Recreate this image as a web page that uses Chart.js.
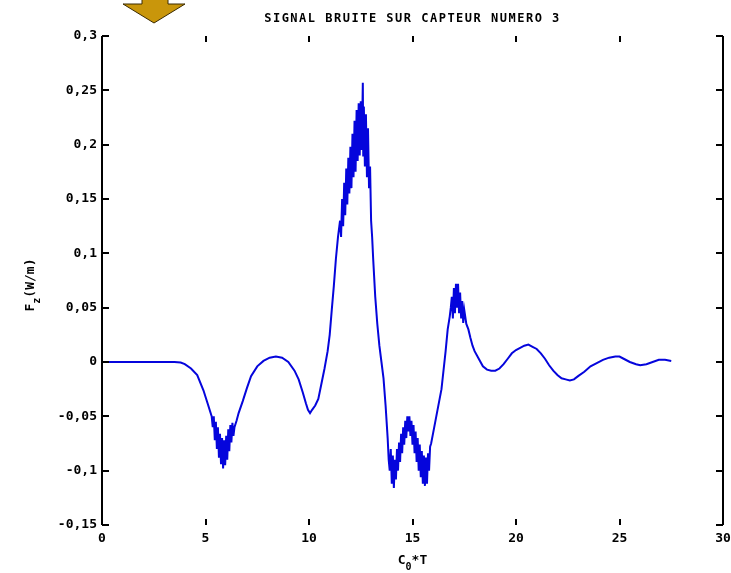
<!DOCTYPE html>
<html>
<head>
<meta charset="utf-8">
<script src="https://cdn.jsdelivr.net/npm/chart.js@4/dist/chart.umd.min.js"></script>
<style>
  html, body { margin: 0; padding: 0; background: #fff; }
  #wrap { width: 731px; height: 573px; }
</style>
</head>
<body>
<div id="wrap"><canvas id="signal"></canvas></div>
<script>
const titleText = "SIGNAL BRUITE SUR CAPTEUR NUMERO 3";

// C0*T values
const timeValues = [
  0, 1, 2, 3, 3.5, 3.8, 4.0, 4.3, 4.6, 4.9, 5.1, 5.3,
  5.35, 5.4, 5.45, 5.5, 5.55, 5.6, 5.65, 5.7, 5.75, 5.8, 5.85, 5.9, 5.95, 6.0,
  6.05, 6.1, 6.15, 6.2, 6.25, 6.3, 6.35, 6.4, 6.5, 6.6, 6.8, 7.0, 7.2, 7.5, 7.8,
  8.1, 8.4, 8.7, 9.0, 9.3, 9.5, 9.7, 9.85, 9.95, 10.05, 10.15, 10.3, 10.45, 10.6,
  10.75, 10.9, 11.0, 11.1, 11.2, 11.3, 11.4, 11.5,
  11.55, 11.6, 11.65, 11.7, 11.75, 11.8, 11.85, 11.9, 11.95, 12.0, 12.05, 12.1,
  12.15, 12.2, 12.25, 12.3, 12.35, 12.4, 12.45, 12.5, 12.55, 12.6, 12.62, 12.65,
  12.7, 12.75, 12.8, 12.85, 12.9, 12.95, 13.0, 13.05, 13.1, 13.2, 13.3, 13.4,
  13.5, 13.6, 13.7, 13.8, 13.85, 13.9, 13.95, 14.0, 14.05, 14.1, 14.15, 14.2,
  14.25, 14.3, 14.35, 14.4, 14.45, 14.5, 14.55, 14.6, 14.65, 14.7, 14.75, 14.8,
  14.85, 14.9, 14.95, 15.0, 15.05, 15.1, 15.15, 15.2, 15.25, 15.3, 15.35, 15.4,
  15.45, 15.5, 15.55, 15.6, 15.65, 15.7, 15.75, 15.8, 15.85, 15.9, 16.0, 16.2,
  16.4, 16.6, 16.7, 16.8, 16.85, 16.9, 16.95, 17.0, 17.05, 17.1, 17.15, 17.2,
  17.25, 17.3, 17.35, 17.4, 17.45, 17.5, 17.6, 17.7, 17.8, 17.9, 18.0, 18.2,
  18.4, 18.6, 18.8, 19.0, 19.2, 19.4, 19.6, 19.8, 20.0, 20.2, 20.4, 20.6,
  20.8, 21.0, 21.2, 21.4, 21.6, 21.8, 22.0, 22.2, 22.4, 22.6, 22.8, 23.0,
  23.3, 23.6, 23.9, 24.2, 24.5, 24.8, 25.0, 25.2, 25.5, 25.8, 26.0, 26.3,
  26.6, 26.9, 27.2, 27.5
];

// Fz (W/m) values
const forceValues = [
  0, 0, 0, 0, 0, -0.0005, -0.002, -0.006, -0.012, -0.026, -0.038, -0.05,
  -0.06, -0.05, -0.072, -0.055, -0.08, -0.06, -0.088, -0.066, -0.094, -0.07, -0.098, -0.072, -0.095, -0.068,
  -0.09, -0.062, -0.082, -0.058, -0.074, -0.056, -0.068, -0.06, -0.054, -0.047, -0.036, -0.024, -0.013, -0.004, 0.001,
  0.004, 0.005, 0.004, 0.0, -0.008, -0.016, -0.028, -0.038, -0.044, -0.047, -0.044, -0.04, -0.034, -0.02,
  -0.006, 0.01, 0.025, 0.048, 0.07, 0.095, 0.115, 0.13,
  0.115, 0.15, 0.125, 0.165, 0.135, 0.178, 0.145, 0.188, 0.155, 0.198, 0.16, 0.21,
  0.17, 0.222, 0.175, 0.232, 0.185, 0.238, 0.19, 0.24, 0.195, 0.257, 0.19, 0.235,
  0.18, 0.228, 0.17, 0.215, 0.16, 0.18, 0.13, 0.115, 0.095, 0.06, 0.035, 0.015,
  0.0, -0.015, -0.04, -0.07, -0.09, -0.1, -0.08, -0.112, -0.086, -0.116, -0.09, -0.108,
  -0.08, -0.1, -0.074, -0.092, -0.066, -0.084, -0.06, -0.076, -0.054, -0.07, -0.05, -0.064,
  -0.05, -0.068, -0.054, -0.076, -0.058, -0.084, -0.064, -0.092, -0.07, -0.1, -0.076, -0.106,
  -0.082, -0.112, -0.086, -0.114, -0.088, -0.112, -0.084, -0.1, -0.078, -0.075, -0.065, -0.045,
  -0.025, 0.01, 0.03, 0.042, 0.05, 0.06, 0.04, 0.068, 0.045, 0.072, 0.05, 0.072,
  0.045, 0.064, 0.04, 0.056, 0.036, 0.048, 0.035, 0.03, 0.022, 0.015, 0.01, 0.003,
  -0.004, -0.007, -0.008, -0.008, -0.006, -0.002, 0.003, 0.008, 0.011, 0.013, 0.015, 0.016,
  0.014, 0.012, 0.008, 0.003, -0.003, -0.008, -0.012, -0.015, -0.016, -0.017, -0.016, -0.013,
  -0.009, -0.004, -0.001, 0.002, 0.004, 0.005, 0.005, 0.003, 0.0, -0.002, -0.003, -0.002,
  0.0, 0.002, 0.002, 0.001
];

const xTicks = [0, 5, 10, 15, 20, 25, 30];
const yTicks = [-0.15, -0.1, -0.05, 0, 0.05, 0.1, 0.15, 0.2, 0.25, 0.3];

const points = timeValues.map((t, i) => ({ x: t, y: forceValues[i] }));

const fmt = v => {
  const r = Math.round(v * 100) / 100;
  return String(r).replace(".", ",");
};

const tickFont = { family: "DejaVu Sans Mono", size: 13, weight: "bold" };

// frame, inward ticks, titles and the arrow
const decorations = {
  id: "decorations",
  afterDraw(chart) {
    const ctx = chart.ctx;
    const a = chart.chartArea;
    const xs = chart.scales.x;
    const ys = chart.scales.y;
    ctx.save();
    ctx.strokeStyle = "#000";
    ctx.lineWidth = 2;
    ctx.beginPath();
    ctx.moveTo(a.left, a.top); ctx.lineTo(a.left, a.bottom);
    ctx.moveTo(a.right, a.top); ctx.lineTo(a.right, a.bottom);
    yTicks.forEach(v => {
      const py = Math.round(ys.getPixelForValue(v));
      ctx.moveTo(a.left, py); ctx.lineTo(a.left + 7, py);
      ctx.moveTo(a.right, py); ctx.lineTo(a.right - 7, py);
    });
    xTicks.slice(1, -1).forEach(v => {
      const px = Math.round(xs.getPixelForValue(v));
      ctx.moveTo(px, a.top); ctx.lineTo(px, a.top + 6);
      ctx.moveTo(px, a.bottom); ctx.lineTo(px, a.bottom - 6);
    });
    ctx.stroke();

    // title
    ctx.fillStyle = "#000";
    ctx.font = "bold 12px 'DejaVu Sans Mono'";
    ctx.letterSpacing = "1.5px";
    ctx.textAlign = "center";
    ctx.textBaseline = "middle";
    ctx.fillText(titleText, (a.left + a.right) / 2, 19);
    ctx.letterSpacing = "0px";

    // x axis title C0*T
    ctx.font = "bold 13px 'DejaVu Sans Mono'";
    ctx.textAlign = "left";
    const cw = ctx.measureText("C").width;
    ctx.font = "bold 10px 'DejaVu Sans Mono'";
    const sw = ctx.measureText("0").width;
    ctx.font = "bold 13px 'DejaVu Sans Mono'";
    const tw = ctx.measureText("*T").width;
    let x0 = (a.left + a.right) / 2 - (cw + sw + tw) / 2;
    ctx.fillText("C", x0, 561);
    ctx.font = "bold 10px 'DejaVu Sans Mono'";
    ctx.fillText("0", x0 + cw, 567);
    ctx.font = "bold 13px 'DejaVu Sans Mono'";
    ctx.fillText("*T", x0 + cw + sw, 561);

    // y axis title Fz(W/m)
    ctx.translate(31, 285);
    ctx.rotate(-Math.PI / 2);
    const fw = ctx.measureText("F").width;
    ctx.font = "bold 10px 'DejaVu Sans Mono'";
    const zw = ctx.measureText("z").width;
    ctx.font = "bold 13px 'DejaVu Sans Mono'";
    const uw = ctx.measureText("(W/m)").width;
    x0 = -(fw + zw + uw) / 2;
    ctx.fillText("F", x0, 0);
    ctx.font = "bold 10px 'DejaVu Sans Mono'";
    ctx.fillText("z", x0 + fw, 6);
    ctx.font = "bold 13px 'DejaVu Sans Mono'";
    ctx.fillText("(W/m)", x0 + fw + zw, 0);
    ctx.restore();

    // arrow
    ctx.save();
    ctx.fillStyle = "#c9960b";
    ctx.strokeStyle = "#3a2a00";
    ctx.lineWidth = 1;
    ctx.beginPath();
    ctx.moveTo(142, -1); ctx.lineTo(168, -1); ctx.lineTo(168, 4);
    ctx.lineTo(185, 4); ctx.lineTo(154, 23); ctx.lineTo(123, 4);
    ctx.lineTo(142, 4); ctx.closePath();
    ctx.fill();
    ctx.stroke();
    ctx.restore();
  }
};

new Chart(document.getElementById("signal"), {
  type: "line",
  plugins: [decorations],
  data: {
    datasets: [{
      data: points,
      borderColor: "#0505dc",
      borderWidth: 2,
      pointRadius: 0,
      tension: 0,
      fill: false
    }]
  },
  options: {
    responsive: true,
    maintainAspectRatio: false,
    animation: false,
    layout: { padding: { left: 0, right: 8, top: 36, bottom: 0 } },
    plugins: {
      legend: { display: false },
      tooltip: { enabled: false }
    },
    scales: {
      x: {
        type: "linear",
        min: 0,
        max: 30,
        grid: { display: false, drawTicks: false },
        border: { display: false },
        afterFit: s => { s.height = 48; s.paddingLeft = 0; s.paddingRight = 0; },
        afterBuildTicks: s => { s.ticks = xTicks.map(v => ({ value: v })); },
        ticks: { color: "#000", font: tickFont, padding: 6, maxRotation: 0, callback: v => fmt(v) }
      },
      y: {
        min: -0.15,
        max: 0.3,
        grid: { display: false, drawTicks: false },
        border: { display: false },
        afterFit: s => { s.width = 102; s.paddingTop = 0; s.paddingBottom = 0; },
        afterBuildTicks: s => { s.ticks = yTicks.map(v => ({ value: v })); },
        ticks: { color: "#000", font: tickFont, padding: 5, callback: v => fmt(v) }
      }
    }
  }
});
</script>
</body>
</html>
